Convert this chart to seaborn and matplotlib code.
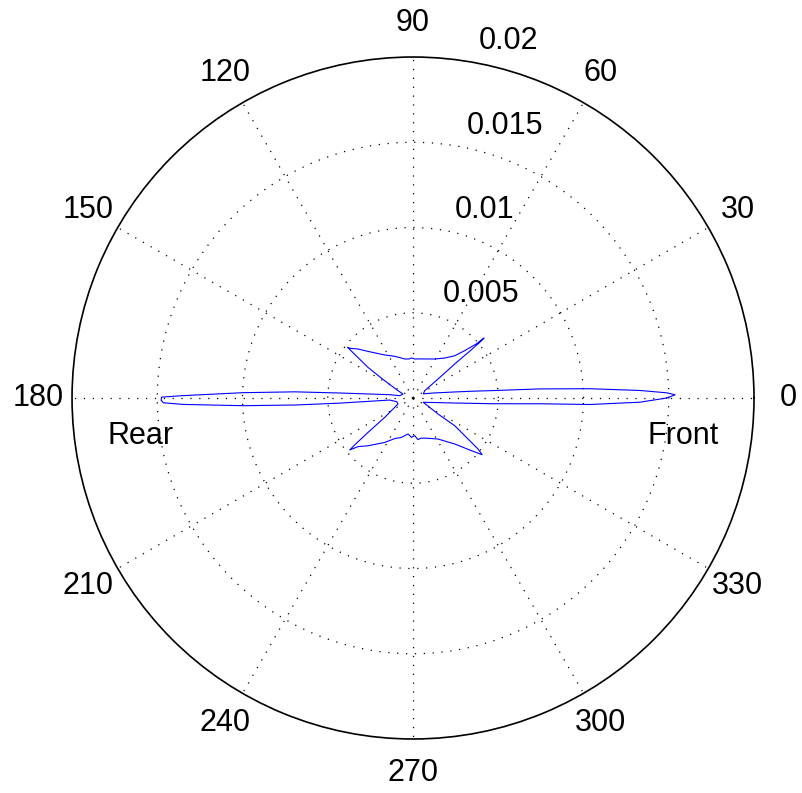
import numpy as np
import matplotlib
matplotlib.use("Agg")
import matplotlib.pyplot as plt
from matplotlib.ticker import NullFormatter
import seaborn as sns

# ── data (angle in degrees, radius in units of 1e-3) ──
theta_deg = [0.0, 0.7, 1.17, 1.9, 3.0, 4.1, 5.3, 6.5, 8.5, 14.0,
             22.0, 32.0, 37.2, 39.2, 39.6, 39.9, 40.2, 40.5, 42.5, 45.4,
             51.6, 60.9, 73.3, 80.0, 87.5, 92.0, 96.0, 102.0, 106.2, 114.0,
             123.3, 134.0, 138.3, 141.6, 142.2, 142.7, 145.8, 148.6, 154.0, 158.2,
             164.0, 170.2, 171.9, 176.1, 177.0, 178.2, 179.4, 179.8, 180.5, 181.1,
             181.6, 182.6, 183.4, 184.0, 185.0, 192.8, 201.8, 214.4, 217.4, 218.8,
             219.4, 221.5, 226.7, 237.5, 246.0, 253.6, 257.6, 262.1, 267.7, 272.6,
             276.8, 281.0, 286.3, 294.0, 301.4, 312.2, 318.0, 320.6, 321.9, 326.4,
             327.4, 337.3, 347.3, 352.9, 355.9, 357.4, 357.9, 358.94, 360.0]
radius_milli = [14.88, 15.37, 14.89, 13.32, 10.39, 7.47, 4.71, 3.54, 2.37, 1.21,
                0.65, 0.81, 1.84, 3.16, 4.45, 5.23, 5.45, 4.89, 4.11, 3.48,
                2.99, 2.62, 2.39, 2.33, 2.29, 2.35, 2.30, 2.34, 2.44, 2.68,
                3.02, 3.80, 4.32, 4.69, 4.86, 4.56, 3.19, 1.95, 0.98, 0.63,
                0.70, 0.79, 1.38, 4.31, 6.92, 9.96, 13.47, 14.74, 14.78, 14.64,
                13.48, 9.96, 6.92, 4.30, 1.37, 0.98, 0.95, 2.01, 3.32, 4.40,
                4.80, 4.30, 3.85, 3.09, 2.60, 2.41, 2.26, 2.13, 2.31, 2.21,
                2.46, 2.40, 2.45, 2.60, 2.82, 3.64, 4.62, 5.24, 4.84, 2.94,
                1.74, 0.65, 1.20, 2.36, 4.70, 7.45, 10.39, 13.31, 14.88]

angle_ticks = [0, 30, 60, 90, 120, 150, 180, 210, 240, 270, 300, 330]
angle_labels = ["0", "30", "60", "90", "120", "150", "180",
                "210", "240", "270", "300", "330"]
ring_values = [0.005, 0.01, 0.015, 0.02]
ring_labels = ["0.005", "0.01", "0.015", "0.02"]

note_text = ["Front", "Rear"]
note_theta = [-9.65, 189.6]
note_r = [0.01609, 0.01619]

r_max = 0.02

# ── figure ──
sns.set_style("white")
plt.rcParams["font.family"] = ["Liberation Sans", "DejaVu Sans"]
plt.rcParams["text.color"] = "black"

fig = plt.figure(figsize=(8.03, 7.93), dpi=100)
ax = fig.add_axes([0.0897, 0.0681, 0.8493, 0.860], projection="polar")

theta = np.deg2rad(theta_deg)
radius = np.array(radius_milli) * 1e-3
sns.lineplot(x=theta, y=radius, sort=False, estimator=None,
             color="blue", linewidth=0.8, ax=ax)

ax.set_ylim(0, r_max)
ax.set_xticks(np.deg2rad(angle_ticks))
ax.set_yticks(ring_values[:-1])
ax.xaxis.set_major_formatter(NullFormatter())
ax.yaxis.set_major_formatter(NullFormatter())
ax.set_xlabel("")
ax.set_ylabel("")
ax.set_axisbelow(True)
ax.grid(True, color="black", linestyle=(0, (1, 6.1)), linewidth=0.9)
ax.spines["polar"].set_color("black")
ax.spines["polar"].set_linewidth(1.2)

# angle labels outside the circle
for ang, lab in zip(angle_ticks, angle_labels):
    ax.text(np.deg2rad(ang), 1.1 * r_max, lab, ha="center", va="center",
            fontsize=22, color="black")

# radial labels along the 82 degree spoke
for val, lab in zip(ring_values, ring_labels):
    ax.annotate(lab, xy=(np.deg2rad(82), val + r_max / 4 / 20),
                xytext=(12.6, 0), textcoords="offset points",
                ha="left", va="bottom", fontsize=22, color="black",
                annotation_clip=False)

for txt, th, rr in zip(note_text, note_theta, note_r):
    ax.text(np.deg2rad(th), rr, txt, ha="center", va="baseline",
            fontsize=22, color="black")

plt.savefig("out.png", dpi=100)
